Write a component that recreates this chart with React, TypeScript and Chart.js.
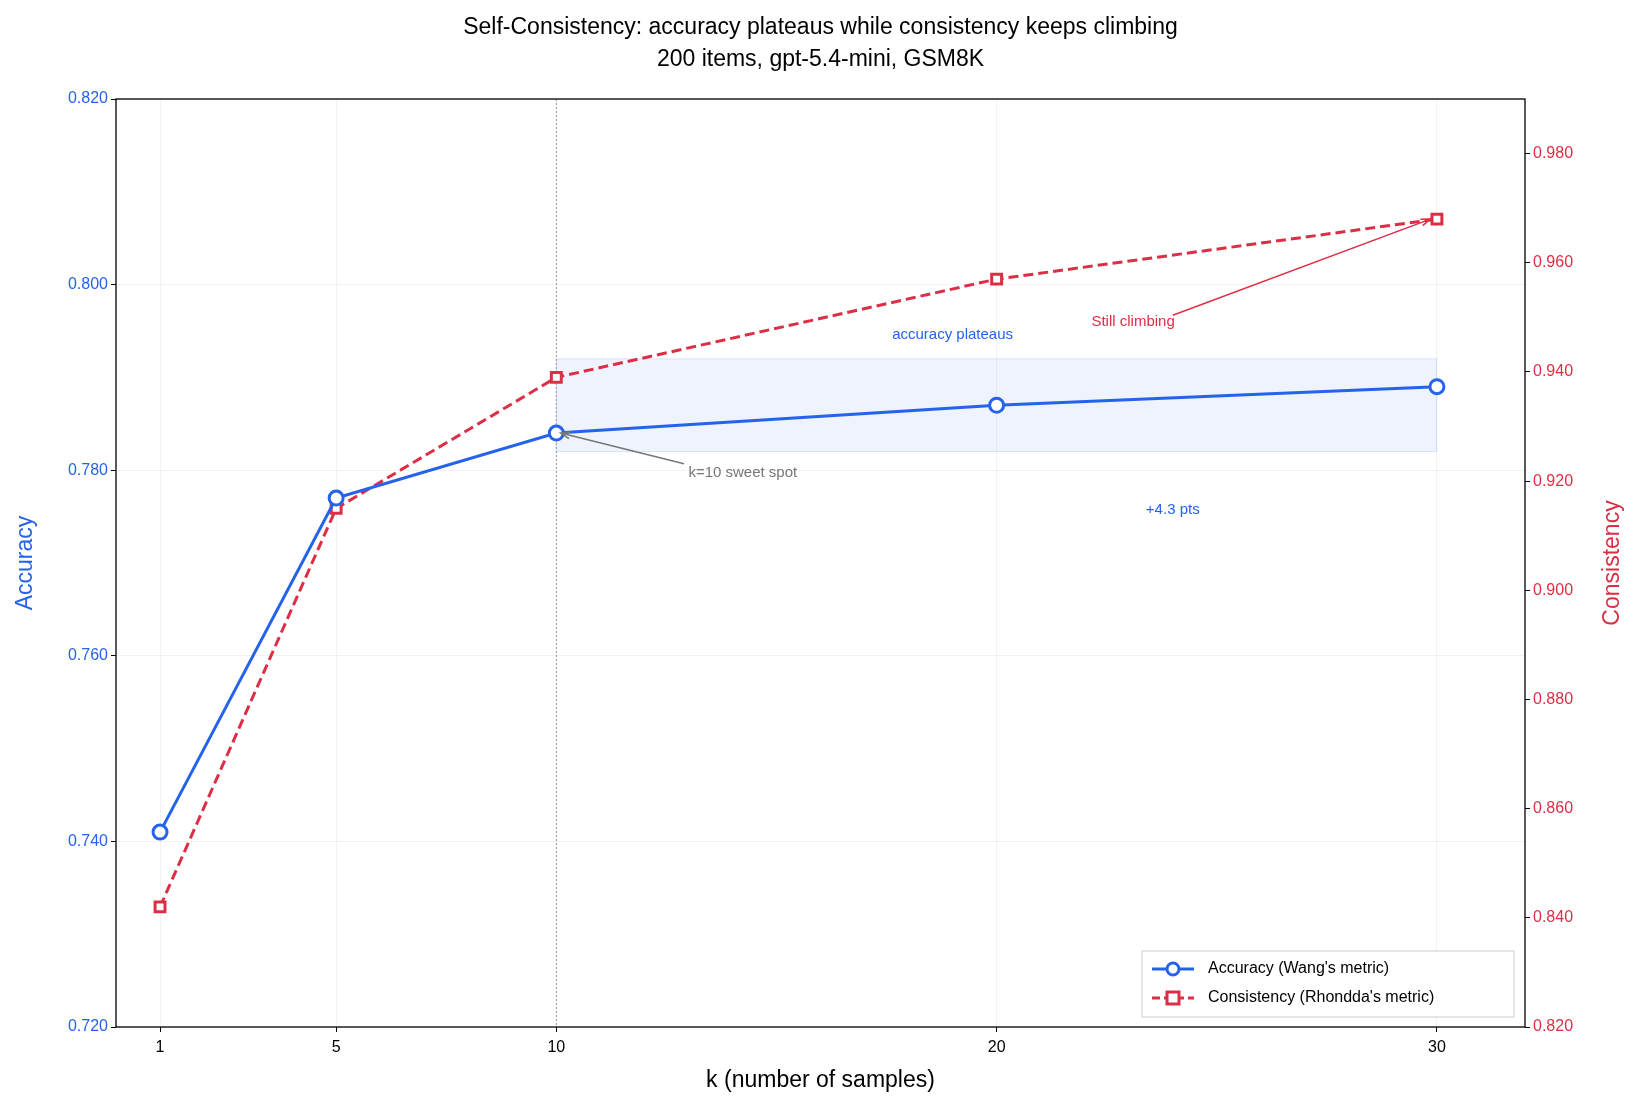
import React, { useEffect, useRef } from "react";
import { Chart, registerables } from "chart.js";
Chart.register(...registerables);

const kValues = [1, 5, 10, 20, 30];
const accuracy = [0.741, 0.777, 0.784, 0.787, 0.789];
const consistency = [0.842, 0.915, 0.939, 0.957, 0.968];
const leftTicks = [0.72, 0.74, 0.76, 0.78, 0.8, 0.82];
const rightTicks = [0.82, 0.84, 0.86, 0.88, 0.9, 0.92, 0.94, 0.96, 0.98];
const band = { x0: 10, x1: 30, y0: 0.782, y1: 0.792 };

const BLUE = "#2563eb";
const RED = "#dc2f45";
const FONT = "'Liberation Sans', Arial, sans-serif";

const overlay = {
  id: "overlay",
  beforeDatasetsDraw(chart: any) {
    const { ctx, chartArea: a, scales } = chart;
    const x = scales.x, y = scales.y;
    ctx.save();
    ctx.fillStyle = "rgba(37,99,235,0.08)";
    ctx.strokeStyle = "rgba(37,99,235,0.15)";
    const bx0 = x.getPixelForValue(band.x0), bx1 = x.getPixelForValue(band.x1);
    const by0 = y.getPixelForValue(band.y1), by1 = y.getPixelForValue(band.y0);
    ctx.fillRect(bx0, by0, bx1 - bx0, by1 - by0);
    ctx.strokeRect(bx0, by0, bx1 - bx0, by1 - by0);
    ctx.strokeStyle = "#999";
    ctx.setLineDash([2, 2]);
    ctx.lineWidth = 1;
    ctx.beginPath();
    ctx.moveTo(x.getPixelForValue(10), a.top);
    ctx.lineTo(x.getPixelForValue(10), a.bottom);
    ctx.stroke();
    ctx.restore();
  },
  afterDatasetsDraw(chart: any) {
    const { ctx, chartArea: a, scales } = chart;
    const x = scales.x, y = scales.y, y2 = scales.y2;
    ctx.save();
    ctx.strokeStyle = "#000";
    ctx.lineWidth = 1.3;
    ctx.strokeRect(a.left, a.top, a.right - a.left, a.bottom - a.top);
    ctx.fillStyle = "#000";
    ctx.textAlign = "center";
    ctx.textBaseline = "middle";
    ctx.font = `23px ${FONT}`;
    ctx.fillText("Self-Consistency: accuracy plateaus while consistency keeps climbing", (a.left + a.right) / 2, 28);
    ctx.fillText("200 items, gpt-5.4-mini, GSM8K", (a.left + a.right) / 2, 60);
    ctx.fillText("k (number of samples)", (a.left + a.right) / 2, 1081);
    ctx.save();
    ctx.translate(26, (a.top + a.bottom) / 2);
    ctx.rotate(-Math.PI / 2);
    ctx.fillStyle = BLUE;
    ctx.fillText("Accuracy", 0, 0);
    ctx.restore();
    ctx.save();
    ctx.translate(1613, (a.top + a.bottom) / 2);
    ctx.rotate(-Math.PI / 2);
    ctx.fillStyle = RED;
    ctx.fillText("Consistency", 0, 0);
    ctx.restore();
    ctx.font = `15px ${FONT}`;
    ctx.fillStyle = BLUE;
    ctx.fillText("accuracy plateaus", x.getPixelForValue(19.0), y.getPixelForValue(0.7946));
    ctx.fillText("+4.3 pts", x.getPixelForValue(24.0), y.getPixelForValue(0.7757));
    ctx.fillStyle = RED;
    ctx.fillText("Still climbing", x.getPixelForValue(23.1), y.getPixelForValue(0.796));
    ctx.strokeStyle = RED;
    ctx.lineWidth = 1.5;
    const arrow = (x0: number, y0: number, x1: number, y1: number) => {
      ctx.beginPath(); ctx.moveTo(x0, y0); ctx.lineTo(x1, y1); ctx.stroke();
      const ang = Math.atan2(y1 - y0, x1 - x0);
      ctx.beginPath();
      ctx.moveTo(x1 - 10 * Math.cos(ang - 0.35), y1 - 10 * Math.sin(ang - 0.35));
      ctx.lineTo(x1, y1);
      ctx.lineTo(x1 - 10 * Math.cos(ang + 0.35), y1 - 10 * Math.sin(ang + 0.35));
      ctx.stroke();
    };
    arrow(x.getPixelForValue(24.0), y.getPixelForValue(0.7967), x.getPixelForValue(29.85), y2.getPixelForValue(0.968));
    ctx.fillStyle = "#777";
    ctx.textAlign = "left";
    ctx.fillText("k=10 sweet spot", x.getPixelForValue(13.0), y.getPixelForValue(0.7797));
    ctx.strokeStyle = "#777";
    arrow(x.getPixelForValue(12.9), y.getPixelForValue(0.7807), x.getPixelForValue(10.1), y.getPixelForValue(0.784));
    const lx = 1142, ly = 951, lw = 372, lh = 66;
    ctx.fillStyle = "rgba(255,255,255,0.85)";
    ctx.strokeStyle = "#ccc";
    ctx.lineWidth = 1;
    ctx.fillRect(lx, ly, lw, lh);
    ctx.strokeRect(lx, ly, lw, lh);
    const items = [
      { label: "Accuracy (Wang's metric)", color: BLUE, dash: [] as number[], shape: "circle" },
      { label: "Consistency (Rhondda's metric)", color: RED, dash: [8, 4], shape: "rect" },
    ];
    items.forEach((it, i) => {
      const cy = ly + 18 + i * 29;
      ctx.strokeStyle = it.color;
      ctx.lineWidth = 3;
      ctx.setLineDash(it.dash);
      ctx.beginPath(); ctx.moveTo(lx + 10, cy); ctx.lineTo(lx + 52, cy); ctx.stroke();
      ctx.setLineDash([]);
      ctx.fillStyle = "#fff";
      ctx.beginPath();
      if (it.shape === "circle") ctx.arc(lx + 31, cy, 6, 0, Math.PI * 2);
      else ctx.rect(lx + 25, cy - 6, 12, 12);
      ctx.fill(); ctx.stroke();
      ctx.fillStyle = "#000";
      ctx.font = `16px ${FONT}`;
      ctx.textAlign = "left";
      ctx.fillText(it.label, lx + 66, cy);
    });
    ctx.restore();
  },
};

export default function App() {
  const ref = useRef<HTMLCanvasElement>(null);
  useEffect(() => {
    const grid = { color: "rgba(0,0,0,0.05)", borderDash: [3, 3], drawTicks: true, tickColor: "#000", tickLength: 5 };
    const chart = new Chart(ref.current!, {
      type: "line",
      data: {
        datasets: [
          {
            label: "Accuracy (Wang's metric)",
            data: kValues.map((k, i) => ({ x: k, y: accuracy[i] })),
            yAxisID: "y",
            borderColor: BLUE, borderWidth: 3,
            pointStyle: "circle", pointRadius: 7, pointBorderWidth: 3,
            pointBackgroundColor: "#fff", pointBorderColor: BLUE,
          },
          {
            label: "Consistency (Rhondda's metric)",
            data: kValues.map((k, i) => ({ x: k, y: consistency[i] })),
            yAxisID: "y2",
            borderColor: RED, borderWidth: 3, borderDash: [10, 5],
            pointStyle: "rect", pointRadius: 7, pointBorderWidth: 3,
            pointBackgroundColor: "#fff", pointBorderColor: RED,
          },
        ],
      },
      options: {
        animation: false,
        responsive: false,
        layout: { padding: { top: 99 } },
        plugins: { legend: { display: false }, title: { display: false }, tooltip: { enabled: false } },
        scales: {
          x: {
            type: "linear", min: 0, max: 32,
            afterBuildTicks: (s: any) => { s.ticks = kValues.map((v) => ({ value: v })); },
            afterFit: (s: any) => { s.height = 80; },
            ticks: { color: "#000", font: { family: FONT, size: 16 }, padding: 6 },
            grid, border: { display: false },
          },
          y: {
            position: "left", min: 0.72, max: 0.82,
            afterBuildTicks: (s: any) => { s.ticks = leftTicks.map((v) => ({ value: v })); },
            afterFit: (s: any) => { s.width = 116; },
            ticks: { color: BLUE, font: { family: FONT, size: 16 }, callback: (v: any) => Number(v).toFixed(3) },
            grid, border: { display: false },
          },
          y2: {
            position: "right", min: 0.82, max: 0.99,
            afterBuildTicks: (s: any) => { s.ticks = rightTicks.map((v) => ({ value: v })); },
            afterFit: (s: any) => { s.width = 111; },
            ticks: { color: RED, font: { family: FONT, size: 16 }, callback: (v: any) => Number(v).toFixed(3) },
            grid: { display: true, drawOnChartArea: false, tickColor: "#000", tickLength: 5 },
            border: { display: false },
          },
        },
      } as any,
      plugins: [overlay],
    });
    return () => chart.destroy();
  }, []);
  return (
    <div style={{ position: "absolute", left: 0, top: 0, background: "#fff" }}>
      <canvas ref={ref} width={1636} height={1107} style={{ width: 1636, height: 1107 }} />
    </div>
  );
}
